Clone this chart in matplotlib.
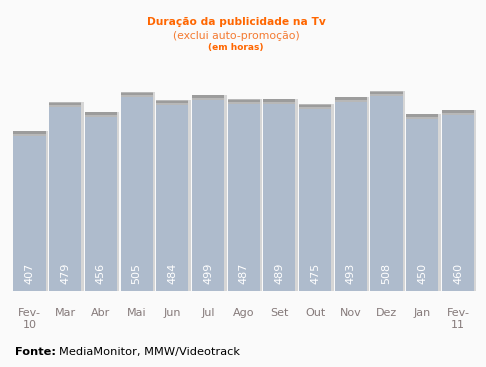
import matplotlib
matplotlib.use("Agg")
import matplotlib.pyplot as plt
import numpy as np

# data
months = ["Fev-\n10", "Mar", "Abr", "Mai", "Jun", "Jul", "Ago", "Set",
          "Out", "Nov", "Dez", "Jan", "Fev-\n11"]
hours = [407, 479, 456, 505, 484, 499, 487, 489, 475, 493, 508, 450, 460]

bg = "#fafafa"
bar_color = "#aebbcc"
orange = "#ff6600"

fig = plt.figure(figsize=(4.86, 3.67), dpi=100, facecolor=bg)
ax = fig.add_axes([0.024, 0.207, 0.955, 0.59])
ax.set_facecolor(bg)

x = np.arange(len(hours))
w = 0.9
ymax = 550
px = ymax / (0.59 * 367)  # data units per pixel
xpx = 1 / 35.7            # category units per pixel

# shadow on the right of each bar
ax.bar(x + 2.5 * xpx, hours, width=w, color="#d6d6d6", zorder=1)
# main bars
ax.bar(x, hours, width=w, color=bar_color, zorder=2)
# grey cap at the top
for i, v in enumerate(hours):
    ax.bar(i, 5 * px, bottom=v - 5 * px, width=w, color="#b8b8b8", zorder=3)
    ax.bar(i, 2.5 * px, bottom=v - 3 * px, width=w, color="#9c9c9c", zorder=3)
    ax.text(i, 45, str(v), rotation=90, ha="center", va="center",
            color="white", fontsize=8, zorder=4)

ax.set_xlim(-0.5, len(hours) - 0.5)
ax.set_ylim(0, ymax)
ax.set_xticks(x)
ax.set_xticklabels(months, color="#857a7a", fontsize=8, linespacing=1.25)
ax.tick_params(axis="x", length=0, pad=12)
ax.set_yticks([])
for s in ax.spines.values():
    s.set_visible(False)

fig.text(0.486, 0.94, "Duração da publicidade na Tv", ha="center",
         va="center", color=orange, fontsize=7.7, fontweight="bold")
fig.text(0.486, 0.903, "(exclui auto-promoção)", ha="center", va="center",
         color="#f47a30", fontsize=7.8)
fig.text(0.486, 0.871, "(em horas)", ha="center", va="center",
         color=orange, fontsize=6.5, fontweight="bold")

# source line: bold label followed by normal text
src = fig.text(0.031, 0.04, "Fonte:", ha="left", va="center", color="black",
               fontsize=8.2, fontweight="bold")
fig.canvas.draw()
bb = src.get_window_extent()
W = fig.get_size_inches()[0] * fig.dpi
fig.text((bb.x1 + 3) / W, 0.04, "MediaMonitor, MMW/Videotrack",
         ha="left", va="center", color="black", fontsize=8.2)

fig.savefig("out.png", dpi=100, facecolor=bg)
